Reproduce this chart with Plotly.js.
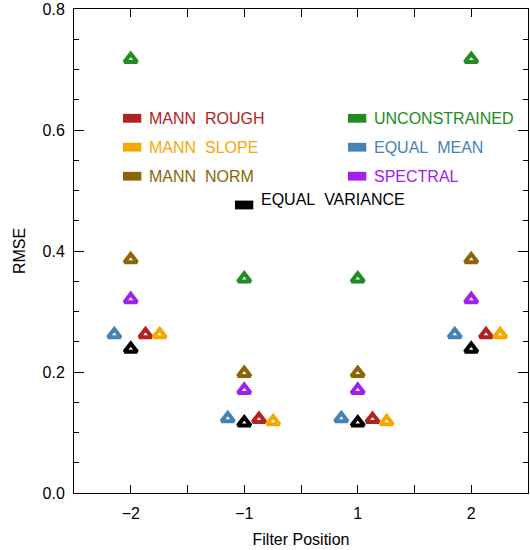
<!DOCTYPE html>
<html>
<head>
<meta charset="utf-8">
<script src="https://cdn.plot.ly/plotly-3.0.1.min.js"></script>
<style>html,body{margin:0;padding:0;background:#fff}#chart{width:530px;height:550px}</style>
</head>
<body>
<div id="chart"></div>
<script>
// ---- data ----
var positions = [1, 2, 3, 4];
var positionLabels = ['\u22122', '\u22121', '1', '2'];
var unconstrained = [0.717, 0.354, 0.354, 0.717];
var mannNorm      = [0.386, 0.198, 0.198, 0.386];
var spectral      = [0.320, 0.170, 0.170, 0.320];
var equalMean     = [0.262, 0.123, 0.123, 0.262];
var equalVariance = [0.238, 0.116, 0.116, 0.238];
var mannRough     = [0.262, 0.122, 0.122, 0.262];
var mannSlope     = [0.262, 0.118, 0.118, 0.262];
var seriesNames = ['UNCONSTRAINED', 'MANN NORM', 'SPECTRAL', 'EQUAL MEAN', 'EQUAL VARIANCE', 'MANN ROUGH', 'MANN SLOPE'];

// ---- styles ----
var colors = {
  'MANN ROUGH': '#b22222', 'MANN SLOPE': '#f7a800', 'MANN NORM': '#8b6508',
  'UNCONSTRAINED': '#228b22', 'EQUAL MEAN': '#4682b4', 'SPECTRAL': '#a020f0',
  'EQUAL VARIANCE': '#000000'
};
var dodge = {
  'UNCONSTRAINED': 0, 'MANN NORM': 0, 'SPECTRAL': 0, 'EQUAL MEAN': -0.145,
  'EQUAL VARIANCE': 0, 'MANN ROUGH': 0.13, 'MANN SLOPE': 0.255
};
var values = {
  'UNCONSTRAINED': unconstrained, 'MANN NORM': mannNorm, 'SPECTRAL': spectral,
  'EQUAL MEAN': equalMean, 'EQUAL VARIANCE': equalVariance,
  'MANN ROUGH': mannRough, 'MANN SLOPE': mannSlope
};

var traces = seriesNames.map(function (n) {
  return {
    type: 'scatter', mode: 'markers', name: n,
    x: positions.map(function (p) { return p + dodge[n]; }),
    y: values[n],
    marker: { symbol: 'triangle-up-open', size: 11, color: colors[n], line: { width: 4, color: colors[n] } },
    hoverinfo: 'x+y+name'
  };
});

// ---- legend (drawn in paper coords) ----
var L = 74, R = 528, T = 9, B = 493;
function px(x) { return (x - L) / (R - L); }
function py(y) { return (B - y) / (B - T); }
var legendItems = [
  { n: 'MANN ROUGH', rx: 123, ry: 118.3, tx: 146.5, ty: 118.3 },
  { n: 'MANN SLOPE', rx: 123, ry: 147.2, tx: 146.5, ty: 147.2 },
  { n: 'MANN NORM', rx: 123, ry: 176.2, tx: 146.5, ty: 176.2 },
  { n: 'UNCONSTRAINED', rx: 348, ry: 118.3, tx: 371.5, ty: 118.3 },
  { n: 'EQUAL MEAN', rx: 348, ry: 147.2, tx: 371.5, ty: 147.2 },
  { n: 'SPECTRAL', rx: 348, ry: 176.2, tx: 371.5, ty: 176.2 },
  { n: 'EQUAL VARIANCE', rx: 235, ry: 205, tx: 259, ty: 199 }
];
var shapes = [], annotations = [];
legendItems.forEach(function (it) {
  shapes.push({
    type: 'rect', xref: 'paper', yref: 'paper',
    x0: px(it.rx), x1: px(it.rx + 18.3), y0: py(it.ry + 4.4), y1: py(it.ry - 4.4),
    fillcolor: colors[it.n], line: { width: 0 }
  });
  annotations.push({
    xref: 'paper', yref: 'paper', x: px(it.tx), y: py(it.ty),
    xanchor: 'left', yanchor: 'middle', showarrow: false,
    text: it.n.replace(' ', '&nbsp;&nbsp;'),
    font: { family: 'Liberation Sans, Arial, sans-serif', size: 16, color: colors[it.n] }
  });
});

var layout = {
  width: 530, height: 550,
  margin: { l: L, r: 530 - R, t: T, b: 550 - B },
  paper_bgcolor: '#fff', plot_bgcolor: '#fff',
  showlegend: false,
  font: { family: 'Liberation Sans, Arial, sans-serif', size: 16, color: '#000' },
  xaxis: {
    range: [0.5, 4.5],
    tickvals: [1, 1.5, 2, 2.5, 3, 3.5, 4],
    ticktext: [positionLabels[0], '', positionLabels[1], '', positionLabels[2], '', positionLabels[3]],
    ticks: 'inside', ticklen: 8, tickwidth: 1, tickcolor: '#000',
    showline: true, linecolor: '#000', linewidth: 1, mirror: 'ticks',
    showgrid: false, zeroline: false,
    ticklabelstandoff: 6,
    tickfont: { size: 16 },
    title: { text: 'Filter Position', font: { size: 16 }, standoff: 12 }
  },
  yaxis: {
    range: [0, 0.8],
    tickvals: [0, 0.2, 0.4, 0.6, 0.8],
    ticktext: ['0.0', '0.2', '0.4', '0.6', '0.8'],
    ticks: 'inside', ticklen: 10, tickwidth: 1, tickcolor: '#000',
    minor: { dtick: 0.05, ticks: 'inside', ticklen: 5, tickwidth: 1, tickcolor: '#000', showgrid: false },
    showline: true, linecolor: '#000', linewidth: 1, mirror: 'ticks',
    showgrid: false, zeroline: false,
    ticklabelstandoff: 5,
    tickfont: { size: 16 },
    title: { text: 'RMSE', font: { size: 16 }, standoff: 12 }
  },
  shapes: shapes,
  annotations: annotations
};

Plotly.newPlot('chart', traces, layout, { displayModeBar: false, staticPlot: true });
</script>
</body>
</html>
